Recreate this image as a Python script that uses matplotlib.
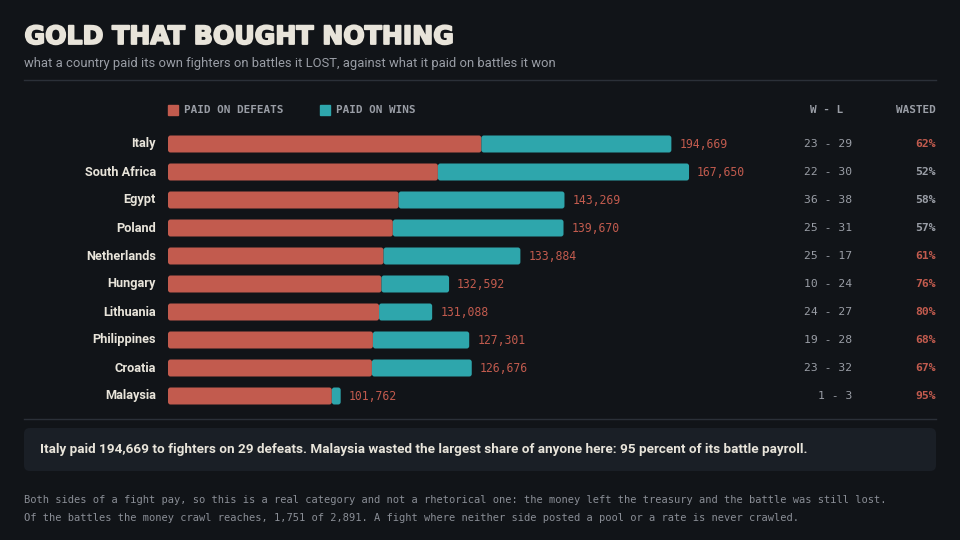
import matplotlib
matplotlib.use("Agg")
import matplotlib.pyplot as plt
import matplotlib.patheffects as pe
from matplotlib.patches import FancyBboxPatch

countries = ["Italy", "South Africa", "Egypt", "Poland", "Netherlands",
             "Hungary", "Lithuania", "Philippines", "Croatia", "Malaysia"]
paid_defeats = [194669, 167650, 143269, 139670, 133884,
                132592, 131088, 127301, 126676, 101762]
paid_wins = [118000, 156000, 103000, 106000, 85000,
             42000, 33000, 59800, 62000, 5500]
wins = [23, 22, 36, 25, 25, 10, 24, 19, 23, 1]
losses = [29, 30, 38, 31, 17, 24, 27, 28, 32, 3]
wasted = [62, 52, 58, 57, 61, 76, 80, 68, 67, 95]

BG = "#111418"
RED = "#c25b4e"
TEAL = "#2ea6ac"
INK = "#e8e4da"
GREY = "#9a9ea6"
RULE = "#2b3038"
MONO = "DejaVu Sans Mono"
SANS = "Roboto"

W, H = 960, 540
fig = plt.figure(figsize=(9.6, 5.4), dpi=100, facecolor=BG)


def fx(px):
    return px / W


def fy(py):
    return 1 - py / H


# header
fig.text(fx(24.5), fy(37), "GOLD THAT BOUGHT NOTHING", color=INK, fontsize=18.1,
         fontweight="heavy", family="DejaVu Sans", va="center",
         path_effects=[pe.withStroke(linewidth=1.3, foreground=INK)])
fig.text(fx(24), fy(63),
         "what a country paid its own fighters on battles it LOST, against what it paid on battles it won",
         color=GREY, fontsize=9.4, family=SANS, va="center")
fig.add_artist(plt.Line2D([fx(24), fx(936)], [fy(80), fy(80)], color=RULE, lw=1))

# legend / column heads
fig.add_artist(plt.Rectangle((fx(168), fy(115)), fx(10), 10 / H, color=RED))
fig.text(fx(184), fy(110), "PAID ON DEFEATS", color=GREY, fontsize=7.9,
         family=MONO, fontweight="bold", va="center")
fig.add_artist(plt.Rectangle((fx(320), fy(115)), fx(10), 10 / H, color=TEAL))
fig.text(fx(336), fy(110), "PAID ON WINS", color=GREY, fontsize=7.9,
         family=MONO, fontweight="bold", va="center")
fig.text(fx(827), fy(110), "W - L", color=GREY, fontsize=7.9, family=MONO,
         fontweight="bold", va="center", ha="center")
fig.text(fx(936), fy(110), "WASTED", color=GREY, fontsize=7.9, family=MONO,
         fontweight="bold", va="center", ha="right")

# bars
px_per_unit = 313.4 / 194669
ax_w = 600
ax = fig.add_axes([fx(168), fy(410), fx(ax_w), 280 / H])
ax.set_facecolor("none")
ax.set_xlim(0, ax_w / px_per_unit)
ax.set_ylim(len(countries) - 0.5, -0.5)
ax.axis("off")

unit_per_px = 1 / px_per_unit
aspect = (1 / 28) / unit_per_px
bar_h = 17 / 28
for i, c in enumerate(countries):
    d = paid_defeats[i]
    w = paid_wins[i]
    for x0, length, col in [(0, d, RED), (d, w, TEAL)]:
        ax.add_patch(FancyBboxPatch((x0, i - bar_h / 2), length, bar_h,
                                    boxstyle="round,pad=0,rounding_size=%f" % (2.5 * unit_per_px),
                                    mutation_aspect=aspect, facecolor=col, edgecolor="none"))
    ax.text(d + w + 8 * unit_per_px, i, f"{d:,}", color=RED, fontsize=8.3,
            family=MONO, va="center", ha="left")
    y = 144 + 28 * i
    fig.text(fx(156), fy(y), c, color=INK, fontsize=9.2, family=SANS,
             fontweight="bold", va="center", ha="right")
    fig.text(fx(852), fy(y), f"{wins[i]} - {losses[i]}", color=GREY, fontsize=8.2,
             family=MONO, va="center", ha="right")
    fig.text(fx(936), fy(y), f"{wasted[i]}%", color=RED if wasted[i] > 60 else GREY,
             fontsize=8.2, family=MONO, fontweight="bold", va="center", ha="right")

fig.add_artist(plt.Line2D([fx(24), fx(936)], [fy(419), fy(419)], color=RULE, lw=1))

# callout
fig.add_artist(FancyBboxPatch((fx(24), fy(471)), fx(912), 43 / H,
                              boxstyle="round,pad=0,rounding_size=0.006",
                              mutation_aspect=W / H, facecolor="#1a1f26",
                              edgecolor="none", transform=fig.transFigure))
fig.text(fx(40), fy(450),
         "Italy paid 194,669 to fighters on 29 defeats. Malaysia wasted the largest share of anyone here: 95 percent of its battle payroll.",
         color=INK, fontsize=9.7, family=SANS, fontweight="bold", va="center")

# footnote
fig.text(fx(24), fy(500),
         "Both sides of a fight pay, so this is a real category and not a rhetorical one: the money left the treasury and the battle was still lost.",
         color="#8a8e96", fontsize=7.5, family=MONO, va="center")
fig.text(fx(24), fy(518),
         "Of the battles the money crawl reaches, 1,751 of 2,891. A fight where neither side posted a pool or a rate is never crawled.",
         color="#8a8e96", fontsize=7.5, family=MONO, va="center")

fig.savefig("out.png", dpi=100, facecolor=BG)
